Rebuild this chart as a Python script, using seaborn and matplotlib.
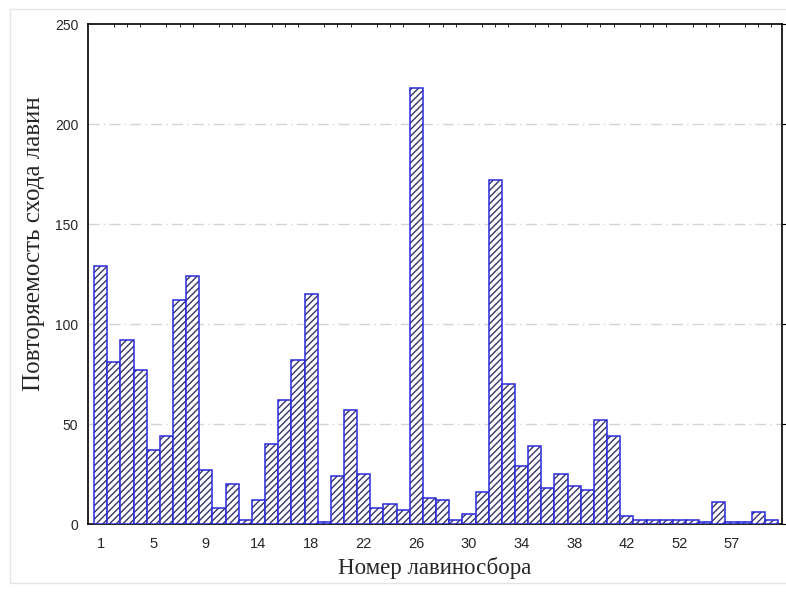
import matplotlib
matplotlib.use("Agg")
import matplotlib.pyplot as plt
from matplotlib.colors import to_rgba
from matplotlib.patches import Rectangle
import seaborn as sns
import pandas as pd

# Avalanche path numbers (only some are labelled on the axis)
paths = ["1", "2", "3", "4", "5", "6", "7", "8", "9", "10", "11", "12",
         "14", "15", "16", "17", "18", "19", "20", "21", "22", "23", "24", "25",
         "26", "27", "28", "29", "30", "31", "32", "33", "34", "35", "36", "37",
         "38", "39", "40", "41", "42", "44", "47", "50", "52", "53", "54", "55",
         "57", "58", "59", "60"]

# Number of avalanche releases per path
releases = [129, 81, 92, 77, 37, 44, 112, 124, 27, 8, 20, 2,
            12, 40, 62, 82, 115, 1, 24, 57, 25, 8, 10, 7,
            218, 13, 12, 2, 5, 16, 172, 70, 29, 39, 18, 25,
            19, 17, 52, 44, 4, 2, 2, 2, 2, 2, 1, 11,
            1, 1, 6, 2]

y_ticks = [0, 50, 100, 150, 200, 250]

df = pd.DataFrame({"path": paths, "count": releases})

sns.set_style("white")
plt.rcParams["font.family"] = ["Liberation Sans", "DejaVu Sans"]

fig = plt.figure(figsize=(7.86, 5.95), dpi=100)
ax = fig.add_axes([88 / 786, 1 - 524 / 595, (782 - 88) / 786, (524 - 24) / 595])

edge_blue = "#2a2ad8"
hatch_navy = "#34346e"

sns.barplot(data=df, x="path", y="count", order=paths, width=1.0,
            color="white", edgecolor=edge_blue, linewidth=1.1,
            hatch="/////", ax=ax, zorder=3)
for p in ax.patches:
    p._hatch_color = to_rgba(hatch_navy)

ax.set_xlim(-0.96, len(paths) - 0.2)
ax.set_ylim(0, 250)

ax.set_yticks(y_ticks)
ax.set_yticklabels([str(v) for v in y_ticks], fontsize=10)
tick_pos = list(range(0, len(paths), 4))
ax.set_xticks(tick_pos)
ax.set_xticklabels([paths[i] for i in tick_pos], fontsize=10.5)
ax.set_xticks(range(len(paths)), minor=True)

ax.tick_params(axis="both", which="major", length=3, width=0.8, color="black",
               direction="out", pad=4)
ax.tick_params(axis="x", which="major", pad=6)
ax.tick_params(axis="x", which="minor", length=2, width=0.7, direction="in",
               top=True, bottom=True)
ax.tick_params(axis="y", which="major", right=True)

for v in y_ticks[1:-1]:
    ax.axhline(v, color="#d4d4d4", linewidth=1.0, linestyle=(0, (8, 3, 1, 3)),
               zorder=1)

for s in ax.spines.values():
    s.set_visible(True)
    s.set_color("black")
    s.set_linewidth(1.2)

ax.set_xlabel("Номер лавиносбора", fontsize=16.5,
              family=["Liberation Serif", "DejaVu Serif"], labelpad=5)
ax.set_ylabel("Повторяемость схода лавин", fontsize=18,
              family=["Liberation Serif", "DejaVu Serif"])
ax.yaxis.set_label_coords(-0.062, 0.56)

# light frame around the whole figure panel
fig.patches.append(Rectangle((10 / 786, 12 / 595), 790 / 786, 574 / 595,
                             transform=fig.transFigure, fill=False,
                             edgecolor="#e4e4e4", linewidth=1.0))

fig.savefig("out.png", dpi=100)
